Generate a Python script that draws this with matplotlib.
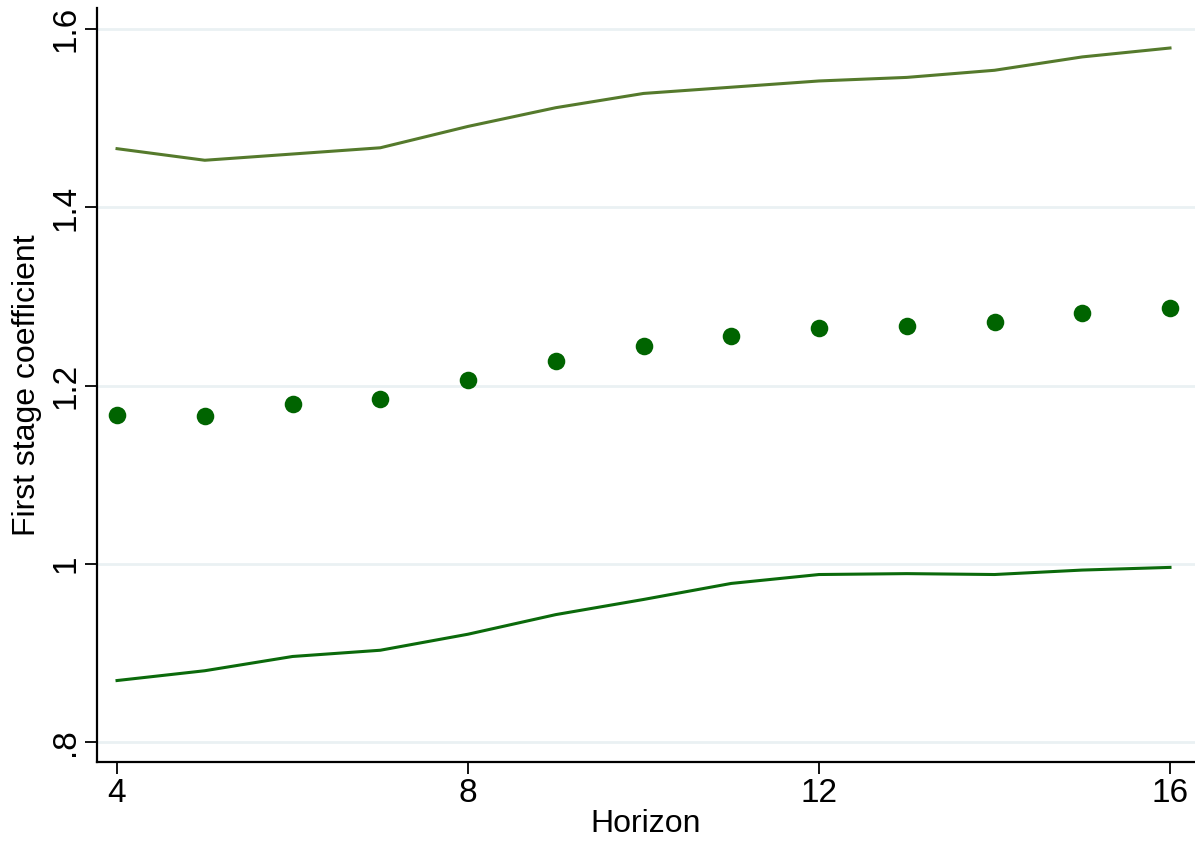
import matplotlib
matplotlib.use("Agg")
import matplotlib.pyplot as plt
import numpy as np

horizon = [4, 5, 6, 7, 8, 9, 10, 11, 12, 13, 14, 15, 16]
coef = [1.167, 1.166, 1.179, 1.185, 1.206, 1.228, 1.244, 1.256, 1.265, 1.267, 1.272, 1.281, 1.287]
upper = [1.466, 1.453, 1.460, 1.467, 1.491, 1.512, 1.528, 1.535, 1.542, 1.546, 1.554, 1.569, 1.579]
lower = [0.869, 0.880, 0.896, 0.903, 0.921, 0.943, 0.960, 0.978, 0.988, 0.989, 0.988, 0.993, 0.996]

yticks = [0.8, 1.0, 1.2, 1.4, 1.6]
ytick_labels = ['.8', '1', '1.2', '1.4', '1.6']
xticks = [4, 8, 12, 16]

plt.rcParams['font.family'] = ['Liberation Sans', 'DejaVu Sans']

fig = plt.figure(figsize=(11.95, 8.44), dpi=100)
ax = fig.add_axes([0.0812, 0.0972, 0.9188, 0.893])

for yv in yticks:
    ax.axhline(yv, color='#eaf1f3', lw=2, zorder=0)

ax.plot(horizon, upper, color='#557a2c', lw=2.2, zorder=2)
ax.plot(horizon, lower, color='#0b6a0b', lw=2.2, zorder=2)
ax.scatter(horizon, coef, s=160, color='#006400', zorder=3, linewidths=0)

ax.set_xlim(3.772, 16.285)
ax.set_ylim(0.7776, 1.6236)
ax.set_xticks(xticks)
ax.set_yticks(yticks)
ax.set_yticklabels(ytick_labels, rotation=90, va='center')

ax.spines['top'].set_visible(False)
ax.spines['right'].set_visible(False)
for s in ['left', 'bottom']:
    ax.spines[s].set_linewidth(1.6)
ax.tick_params(axis='both', labelsize=24, length=8.5, width=1.3, pad=3)

ax.set_xlabel('Horizon', fontsize=23, labelpad=0)
ax.set_ylabel('First stage coefficient', fontsize=23, labelpad=6)

fig.savefig('out.png', dpi=100)
